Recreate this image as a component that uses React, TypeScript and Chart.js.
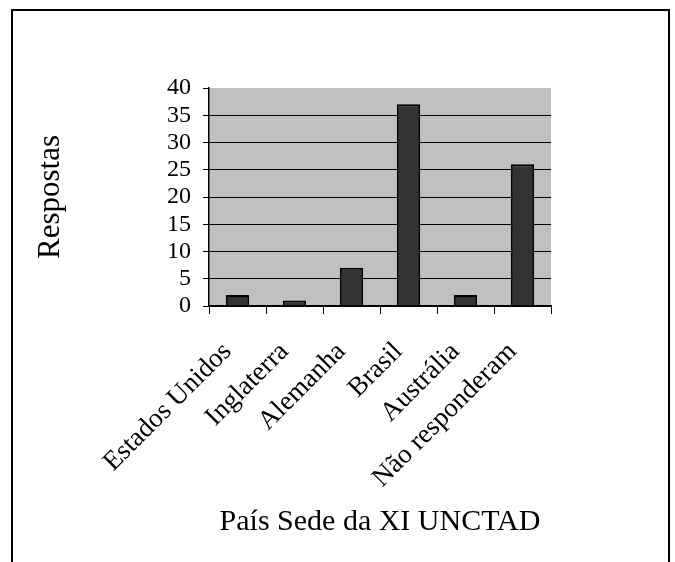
import React, { useEffect, useRef } from 'react';
import { Chart, registerables } from 'chart.js';

Chart.register(...registerables);

const categories = ['Estados Unidos', 'Inglaterra', 'Alemanha', 'Brasil', 'Austrália', 'Não responderam'];
const respostas = [2, 1, 7, 37, 2, 26];
const yMin = 0;
const yMax = 40;
const yStep = 5;
const xTitle = 'País Sede da XI UNCTAD';
const yTitle = 'Respostas';

const FONT = '"Liberation Serif", "Times New Roman", serif';

export default function App() {
  const ref = useRef<HTMLCanvasElement>(null);

  useEffect(() => {
    if (!ref.current) return;
    const framePlugin = {
      id: 'framePlugin',
      beforeDraw(chart: any) {
        const { ctx, chartArea: a } = chart;
        ctx.save();
        ctx.fillStyle = '#c0c0c0';
        ctx.fillRect(a.left, a.top, a.right - a.left, a.bottom - a.top);
        ctx.strokeStyle = '#000';
        ctx.lineWidth = 2;
        ctx.beginPath();
        ctx.moveTo(12, 620);
        ctx.lineTo(12, 10);
        ctx.lineTo(669, 10);
        ctx.lineTo(669, 620);
        ctx.stroke();
        ctx.restore();
      },
    };

    const chart = new Chart(ref.current, {
      type: 'bar',
      data: {
        labels: categories,
        datasets: [
          {
            data: respostas,
            backgroundColor: '#333333',
            borderColor: '#000000',
            borderWidth: 2,
            barPercentage: 0.41,
            categoryPercentage: 1,
          },
        ],
      },
      options: {
        animation: false,
        responsive: false,
        layout: { padding: { left: 0, top: 88, right: 124, bottom: 0 } },
        plugins: {
          legend: { display: false },
          tooltip: { enabled: false },
        },
        scales: {
          x: {
            afterFit(scale: any) {
              scale.height = 256;
            },
            grid: {
              offset: true,
              drawOnChartArea: false,
              drawTicks: true,
              tickLength: 8,
              color: '#000',
              tickColor: '#000',
            },
            border: { display: true, color: '#000', width: 1.5 },
            ticks: {
              autoSkip: false,
              minRotation: 45,
              maxRotation: 45,
              color: '#000',
              padding: 22,
              labelOffset: -10,
              font: { family: FONT, size: 27 },
            },
            title: {
              display: true,
              text: xTitle,
              color: '#000',
              font: { family: FONT, size: 30 },
              padding: { top: 0, bottom: 22 },
            },
          },
          y: {
            min: yMin,
            max: yMax,
            afterFit(scale: any) {
              scale.width = 209;
            },
            ticks: {
              stepSize: yStep,
              autoSkip: false,
              color: '#000',
              padding: 12,
              font: { family: FONT, size: 24 },
            },
            grid: {
              color: (c: any) => (c.tick && c.tick.value === yMax ? 'rgba(0,0,0,0)' : '#000'),
              tickColor: '#000',
              tickLength: 6,
              lineWidth: 1,
            },
            border: { display: true, color: '#000', width: 1.5 },
            title: {
              display: true,
              text: yTitle,
              color: '#000',
              font: { family: FONT, size: 31 },
              padding: { top: 32, bottom: 0 },
            },
          },
        },
      },
      plugins: [framePlugin],
    });

    return () => chart.destroy();
  }, []);

  return (
    <div style={{ position: 'fixed', left: 0, top: 0, width: 675, height: 562, background: '#fff' }}>
      <canvas ref={ref} width={675} height={562} />
    </div>
  );
}
